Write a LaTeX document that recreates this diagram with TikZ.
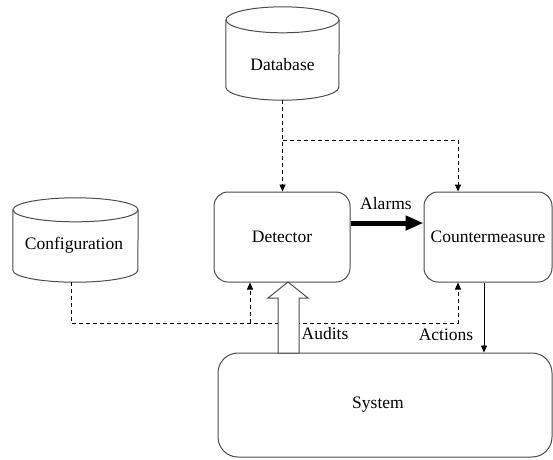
\documentclass[tikz,border=0pt]{standalone}
\usepackage{fontspec}
\setmainfont{Liberation Serif}
\usetikzlibrary{arrows.meta}
\begin{document}
\begin{tikzpicture}[x=1pt,y=-1pt,
  font=\fontsize{17.5}{20}\selectfont,
  box/.style={draw=black!70, line width=1pt, rounded corners=14pt, inner sep=0pt},
  dashline/.style={draw=black, line width=0.8pt, dash pattern=on 4pt off 3pt},
  tipped/.style={-{Triangle[length=7pt,width=6pt]}},
  cyl/.style={draw=black!70, line width=1pt},
  plain/.style={inner sep=0pt}]
\useasboundingbox (0,0) rectangle (553,459);

% Database cylinder
\node[plain, minimum width=113pt, minimum height=93pt] (db) at (282.5,53.5) {};
\draw[cyl] ([yshift=-13pt]db.north) ellipse [x radius=56.5pt, y radius=13pt];
\draw[cyl] ([yshift=-13pt]db.north west) -- ([yshift=13pt]db.south west)
  arc[start angle=180, end angle=360, x radius=56.5pt, y radius=13pt]
  -- ([yshift=-13pt]db.north east);
\node[plain] (dbt) at (282.5,65) {Database};

% Configuration cylinder
\node[plain, minimum width=125pt, minimum height=84pt] (cf) at (75.5,240) {};
\draw[cyl] ([yshift=-12pt]cf.north) ellipse [x radius=62.5pt, y radius=12pt];
\draw[cyl] ([yshift=-12pt]cf.north west) -- ([yshift=12pt]cf.south west)
  arc[start angle=180, end angle=360, x radius=62.5pt, y radius=12pt]
  -- ([yshift=-12pt]cf.north east);
\node[plain] (cft) at (74,245) {Configuration};

% Boxes
\node[box, minimum width=136pt, minimum height=90pt] (det) at (282,237) {Detector};
\node[box, minimum width=128pt, minimum height=90pt] (cm) at (488,237) {Countermeasure};
\node[box, rounded corners=20pt, minimum width=334pt, minimum height=104pt] (sys) at (385,405) {};
\node[plain] (syst) at (378,405) {System};

% Dashed connectors
\coordinate (j1) at (282.5,140);
\coordinate (j2) at (458,140);
\draw[dashline,tipped] (db.south) -- (db.south |- det.north);
\draw[dashline,tipped] (j1) -- (j2) -- (j2 |- cm.north);

\coordinate (k1) at (71,323);
\coordinate (k2) at (458,323);
\coordinate (k3) at (250,323);
\draw[dashline,tipped] (k1 |- cf.south) -- (k1) -- (k2) -- (k2 |- cm.south);
\draw[dashline,tipped] (k3) -- (k3 |- det.south);

% Audits hollow arrow
\draw[cyl, fill=white] (278,353) -- (278,298) -- (268,298) -- (288,282)
  -- (308,298) -- (299,298) -- (299,353) -- cycle;

% Alarms thick arrow
\draw[line width=5pt, -{Triangle[length=18pt,width=14pt]}]
  ([yshift=14pt]det.east) -- ([yshift=14pt]cm.west);

% Actions arrow
\coordinate (a1) at (484,300);
\draw[line width=0.8pt, tipped] (a1 |- cm.south) -- (a1 |- sys.north);

% Labels
\node[plain] (alarms) at (386,204) {Alarms};
\node[plain] (audits) at (325,334) {Audits};
\node[plain] (actions) at (446,335) {Actions};
\end{tikzpicture}
\end{document}
